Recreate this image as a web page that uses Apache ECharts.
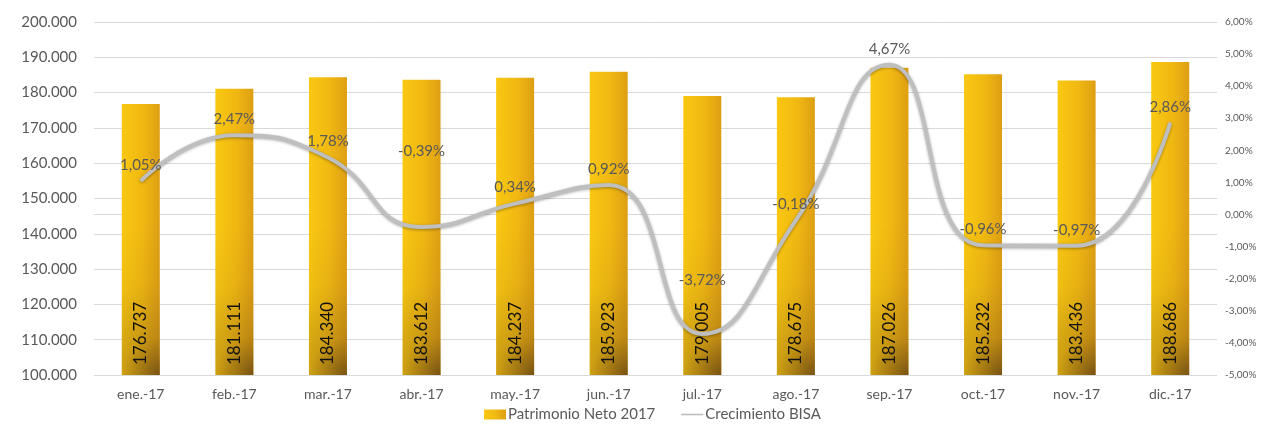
<!DOCTYPE html>
<html>
<head>
<meta charset="utf-8">
<script src="https://cdn.jsdelivr.net/npm/echarts@6/dist/echarts.min.js"></script>
<style>html,body{margin:0;padding:0;background:#fff}#c{width:1262px;height:429px}</style>
</head>
<body>
<div id="c"></div>
<script>
const categories = ['ene.-17','feb.-17','mar.-17','abr.-17','may.-17','jun.-17','jul.-17','ago.-17','sep.-17','oct.-17','nov.-17','dic.-17'];
const patrimonio = [176737,181111,184340,183612,184237,185923,179005,178675,187026,185232,183436,188686];
const crecimiento = [1.05,2.47,1.78,-0.39,0.34,0.92,-3.72,-0.18,4.67,-0.96,-0.97,2.86];

const FONT = 'Lato, "Open Sans", sans-serif';
const TXT = '#595959';
const fmtThousands = v => String(Math.round(v)).replace(/\B(?=(\d{3})+(?!\d))/g, '.');
const fmtPct = v => v.toFixed(2).replace('.', ',') + '%';

const barGrad = new echarts.graphic.LinearGradient(0, 0, 1, 0, [
  {offset: 0, color: '#F9C812'},
  {offset: 0.55, color: '#F0B812'},
  {offset: 1, color: '#DE9F14'}
]);
const shadeGrad = new echarts.graphic.RadialGradient(1, 1, 4, [
  {offset: 0, color: 'rgba(95,65,20,0.8)'},
  {offset: 0.25, color: 'rgba(110,75,20,0.3)'},
  {offset: 0.6, color: 'rgba(120,80,20,0.08)'},
  {offset: 1, color: 'rgba(120,80,20,0)'}
]);

// label offsets (style only)
const labelShift = {3: [0, -60], 6: [0, -38]};

const chart = echarts.init(document.getElementById('c'), null, {renderer: 'canvas'});
chart.setOption({
  backgroundColor: '#ffffff',
  animation: false,
  textStyle: {fontFamily: FONT},
  grid: {left: 94, right: 45, top: 22, bottom: 54, containLabel: false},
  legend: {
    bottom: 2,
    left: 479,
    itemWidth: 22,
    itemHeight: 10,
    itemGap: 26,
    textStyle: {color: TXT, fontSize: 15, fontFamily: FONT, padding: [0, 0, 0, -3]},
    data: [
      {name: 'Patrimonio Neto 2017', icon: 'rect'},
      {name: 'Crecimiento BISA', icon: 'path://M0,0h40v3h-40z'}
    ]
  },
  xAxis: {
    type: 'category',
    data: categories,
    axisLine: {show: true, lineStyle: {color: '#D9D9D9'}},
    axisTick: {show: false},
    axisLabel: {color: TXT, fontSize: 14, margin: 12, fontFamily: FONT}
  },
  yAxis: [
    {
      type: 'value', min: 100000, max: 200000, interval: 10000,
      position: 'left',
      axisLine: {show: false}, axisTick: {show: false},
      splitLine: {lineStyle: {color: '#D9D9D9', width: 1}},
      axisLabel: {color: TXT, fontSize: 15, margin: 17, formatter: fmtThousands, fontFamily: FONT}
    },
    {
      type: 'value', min: -5, max: 6, interval: 1,
      position: 'right',
      axisLine: {show: false}, axisTick: {show: false},
      splitLine: {show: false},
      axisLabel: {color: TXT, fontSize: 10, margin: 8, formatter: v => fmtPct(v), fontFamily: FONT}
    }
  ],
  series: [
    {
      name: 'Patrimonio Neto 2017',
      type: 'bar',
      yAxisIndex: 0,
      barWidth: 38,
      data: patrimonio,
      itemStyle: {color: barGrad}
    },
    {
      name: 'shade',
      type: 'bar',
      yAxisIndex: 0,
      barWidth: 38,
      barGap: '-100%',
      silent: true,
      data: patrimonio,
      itemStyle: {color: shadeGrad},
      label: {
        show: true,
        position: 'insideBottom',
        rotate: 90,
        align: 'left',
        verticalAlign: 'middle',
        distance: 10,
        color: '#111',
        fontSize: 17,
        fontFamily: FONT,
        formatter: p => fmtThousands(p.value)
      }
    },
    {
      name: 'Crecimiento BISA',
      type: 'line',
      yAxisIndex: 1,
      smooth: 0.5,
      symbol: 'circle',
      symbolSize: 1,
      showSymbol: true,
      data: crecimiento.map((v, i) => labelShift[i] ? {value: v, label: {offset: labelShift[i]}} : v),
      lineStyle: {color: '#BFBFBF', width: 4, shadowColor: 'rgba(0,0,0,0.35)', shadowBlur: 3, shadowOffsetY: 1},
      itemStyle: {color: '#BFBFBF'},
      label: {
        show: true,
        position: 'top',
        distance: 8,
        color: TXT,
        fontSize: 15,
        fontFamily: FONT,
        formatter: p => fmtPct(p.value)
      },
      z: 5
    }
  ]
});
</script>
</body>
</html>
